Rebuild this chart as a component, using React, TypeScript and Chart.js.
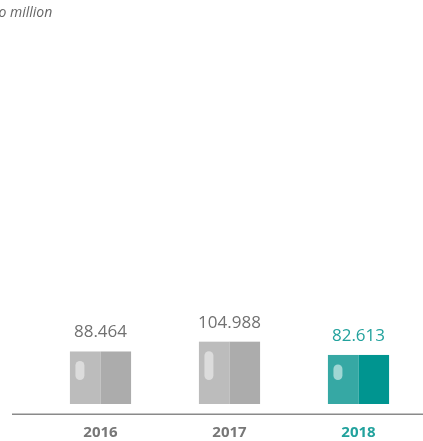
import React, { useEffect, useRef } from "react";
import { Chart, registerables } from "chart.js";

Chart.register(...registerables);

const categories = ["2016", "2017", "2018"];
const values = [88.464, 104.988, 82.613];
const unitLabel = "million";
const unitPrefix = "Euro ";

const GRAY_L = "#bcbcbc";
const GRAY_R = "#acacac";
const GRAY_PILL = "#dcdcdc";
const TEAL_L = "#36a8a4";
const TEAL_R = "#009590";
const TEAL_PILL = "#a0d7d4";
const TEXT_GRAY = "#717171";
const TEXT_TEAL = "#22a29d";

const customPlugin = {
  id: "customDraw",
  afterDatasetsDraw(chart: any) {
    const ctx = chart.ctx;
    const meta = chart.getDatasetMeta(0);
    ctx.save();
    meta.data.forEach((bar: any, i: number) => {
      const teal = i === categories.length - 1;
      const w = bar.width;
      const left = bar.x - w / 2;
      const top = bar.y;
      const base = bar.base;
      ctx.fillStyle = teal ? TEAL_L : GRAY_L;
      ctx.fillRect(left, top, w / 2, base - top);
      ctx.fillStyle = teal ? TEAL_R : GRAY_R;
      ctx.fillRect(left + w / 2, top, w / 2, base - top);
      // highlight pill
      const px = left + 5.5;
      const pw = 9;
      const py = top + 9.5;
      const pb = base - 24;
      if (pb > py) {
        ctx.fillStyle = teal ? TEAL_PILL : GRAY_PILL;
        ctx.beginPath();
        ctx.roundRect(px, py, pw, pb - py, pw / 2);
        ctx.fill();
      }
      // value label
      ctx.fillStyle = teal ? TEXT_TEAL : TEXT_GRAY;
      ctx.font = '17px "Open Sans"';
      ctx.textAlign = "center";
      ctx.textBaseline = "middle";
      ctx.fillText(values[i].toFixed(3), bar.x, top - 19);
    });
    // axis line
    const area = chart.chartArea;
    ctx.fillStyle = "#8a8a8a";
    ctx.fillRect(12, area.bottom + 9.5, chart.width - 12, 1.5);
    // unit label
    ctx.font = 'italic 14px "Open Sans"';
    ctx.fillStyle = "#666666";
    ctx.textAlign = "left";
    ctx.textBaseline = "alphabetic";
    const pre = ctx.measureText(unitPrefix).width;
    ctx.fillText(unitPrefix + unitLabel, 10 - pre, 17);
    ctx.restore();
  },
};

export default function App() {
  const ref = useRef<HTMLCanvasElement>(null);
  useEffect(() => {
    if (!ref.current) return;
    const chart = new Chart(ref.current, {
      type: "bar",
      data: {
        labels: categories,
        datasets: [
          {
            data: values,
            backgroundColor: "rgba(0,0,0,0)",
            borderWidth: 0,
            barPercentage: 0.474,
            categoryPercentage: 1,
          },
        ],
      },
      options: {
        animation: false,
        responsive: false,
        layout: { padding: { left: 36, right: 0, top: 30, bottom: 0 } },
        plugins: { legend: { display: false }, tooltip: { enabled: false } },
        scales: {
          x: {
            grid: { display: false, drawTicks: false },
            border: { display: false },
            ticks: {
              padding: 19.5,
              font: { family: "Open Sans", size: 15, weight: "bold" },
              color: (c: any) => (c.index === categories.length - 1 ? TEXT_TEAL : "#777777"),
            },
          },
          y: {
            display: false,
            min: 0,
            max: 630,
          },
        },
      },
      plugins: [customPlugin],
    });
    return () => chart.destroy();
  }, []);
  return (
    <div
      style={{
        position: "absolute",
        left: 0,
        top: 0,
        width: 423,
        height: 441,
        overflow: "hidden",
      }}
    >
      <canvas ref={ref} width={423} height={461} style={{ display: "block" }} />
    </div>
  );
}
